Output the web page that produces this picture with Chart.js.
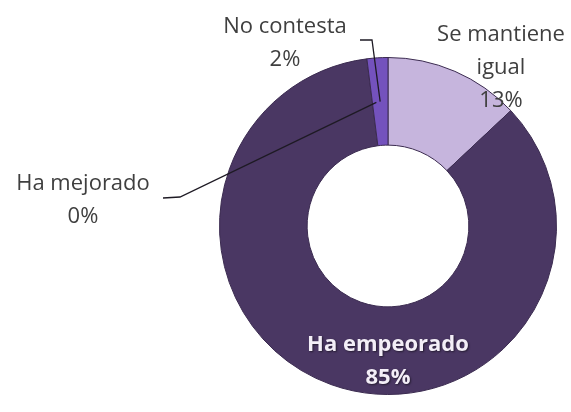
<!DOCTYPE html>
<html>
<head>
<meta charset="utf-8">
<script src="https://cdn.jsdelivr.net/npm/chart.js@4.4.0/dist/chart.umd.min.js"></script>
<style>
  html, body { margin: 0; padding: 0; background: #fff; }
  #wrap { width: 571px; height: 412px; }
</style>
</head>
<body>
<div id="wrap"><canvas id="donut" width="571" height="412"></canvas></div>
<script>
// categories and values (percent)
const categories = ['Se mantiene igual', 'Ha empeorado', 'Ha mejorado', 'No contesta'];
const values = [13, 85, 0, 2];
const sliceColors = ['#c6b5dd', '#4a3763', '#5a4478', '#7452bd'];

// label text lines, one entry per category
const labelLines = [
    ['Se mantiene', 'igual', '13%'],
    ['Ha empeorado', '85%'],
    ['Ha mejorado', '0%'],
    ['No contesta', '2%']
];

// draws the Excel-style data labels and the two leader lines
const labelPlugin = {
    id: 'donutLabels',
    afterDraw(chart) {
        const ctx = chart.ctx;
        const arcs = chart.getDatasetMeta(0).data;
        ctx.save();
        ctx.textAlign = 'center';
        ctx.textBaseline = 'middle';

        // leader lines
        ctx.strokeStyle = '#1e1a24';
        ctx.lineWidth = 1.3;
        const pNo = arcs[3].tooltipPosition();
        ctx.beginPath();
        ctx.moveTo(360, 40);
        ctx.lineTo(372, 40);
        ctx.lineTo(pNo.x, pNo.y);
        ctx.stroke();

        const pMej = arcs[2].tooltipPosition();
        ctx.beginPath();
        ctx.moveTo(163, 198);
        ctx.lineTo(180, 197);
        ctx.lineTo(pMej.x + 4, pMej.y);
        ctx.stroke();

        // outside labels
        ctx.fillStyle = '#3f3f3f';
        ctx.font = '22px "Open Sans", "Noto Sans", sans-serif';
        const lh = 33;
        labelLines[0].forEach((t, i) => ctx.fillText(t, 501, 35 + i * lh));
        labelLines[2].forEach((t, i) => ctx.fillText(t, 83, 184 + i * lh));
        labelLines[3].forEach((t, i) => ctx.fillText(t, 285, 27 + i * lh));

        // inside label on the big slice
        ctx.font = 'bold 22px "Open Sans", "Noto Sans", sans-serif';
        ctx.shadowColor = 'rgba(0,0,0,0.5)';
        ctx.shadowBlur = 2;
        ctx.shadowOffsetX = 1;
        ctx.shadowOffsetY = 1;
        ctx.fillStyle = '#f3eef7';
        labelLines[1].forEach((t, i) => ctx.fillText(t, 388, 345 + i * lh));
        ctx.restore();
    }
};

new Chart(document.getElementById('donut').getContext('2d'), {
    type: 'doughnut',
    data: {
        labels: categories,
        datasets: [{
            data: values,
            backgroundColor: sliceColors,
            borderColor: '#3b2b50',
            borderWidth: 1
        }]
    },
    options: {
        responsive: false,
        animation: false,
        cutout: '48%',
        layout: {
            padding: { left: 219, right: 14, top: 57, bottom: 17 }
        },
        plugins: {
            legend: { display: false },
            tooltip: { enabled: false }
        }
    },
    plugins: [labelPlugin]
});
</script>
</body>
</html>
